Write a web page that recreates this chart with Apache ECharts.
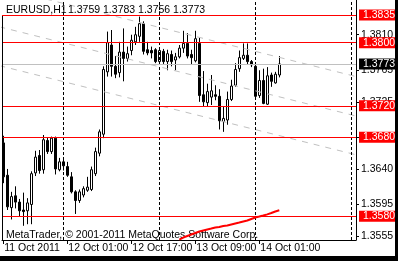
<!DOCTYPE html>
<html><head><meta charset="utf-8">
<script src="https://cdn.jsdelivr.net/npm/echarts@6/dist/echarts.min.js"></script>
<style>html,body{margin:0;padding:0;background:#fff;}#c{width:398px;height:261px;}</style>
</head><body><div id="c"></div>
<script>
// ---- data (EURUSD H1, bar 0 = 11 Oct 2011 09:00) ----
const symbolName = 'EURUSD,H1';
const lastQuote = [1.3759, 1.3783, 1.3756, 1.3773]; // O H L C of last bar
const opens  = [1.3673,1.3632,1.3591,1.3606,1.3598,1.3588,1.3587,1.3595,1.3635,1.3657,
                1.3639,1.3676,1.3662,1.3679,1.3639,1.3649,1.3643,1.3630,1.3611,1.3600,
                1.3607,1.3613,1.3614,1.3634,1.3660,1.3684,1.3763,1.3797,1.3770,1.3762,
                1.3788,1.3780,1.3790,1.3801,1.3808,1.3824,1.3791,1.3790,1.3791,1.3776,
                1.3789,1.3776,1.3785,1.3778,1.3782,1.3793,1.3799,1.3785,1.3777,1.3799,
                1.3734,1.3724,1.3731,1.3734,1.3732,1.3700,1.3702,1.3728,1.3746,1.3767,
                1.3780,1.3784,1.3776,1.3770,1.3733,1.3752,1.3722,1.3759,1.3749,1.3759];
const highs  = [1.3682,1.3640,1.3611,1.3618,1.3602,1.3610,1.3603,1.3637,1.3663,1.3664,
                1.3683,1.3680,1.3681,1.3681,1.3654,1.3655,1.3649,1.3636,1.3613,1.3614,
                1.3618,1.3630,1.3643,1.3667,1.3690,1.3770,1.3814,1.3816,1.3783,1.3801,
                1.3818,1.3795,1.3810,1.3820,1.3833,1.3827,1.3801,1.3795,1.3793,1.3793,
                1.3792,1.3791,1.3790,1.3787,1.3797,1.3815,1.3812,1.3791,1.3815,1.3806,
                1.3764,1.3748,1.3759,1.3746,1.3741,1.3719,1.3738,1.3753,1.3774,1.3790,
                1.3799,1.3799,1.3778,1.3772,1.3765,1.3767,1.3769,1.3762,1.3763,1.3783];
const lows   = [1.3622,1.3588,1.3576,1.3590,1.3580,1.3568,1.3570,1.3570,1.3631,1.3634,
                1.3634,1.3659,1.3659,1.3633,1.3637,1.3638,1.3630,1.3609,1.3583,1.3597,
                1.3604,1.3611,1.3612,1.3631,1.3656,1.3679,1.3757,1.3757,1.3755,1.3756,
                1.3751,1.3776,1.3784,1.3797,1.3801,1.3785,1.3784,1.3780,1.3774,1.3772,
                1.3773,1.3765,1.3770,1.3765,1.3780,1.3787,1.3780,1.3772,1.3775,1.3725,
                1.3719,1.3719,1.3721,1.3727,1.3690,1.3687,1.3696,1.3726,1.3744,1.3763,
                1.3778,1.3772,1.3769,1.3730,1.3730,1.3722,1.3721,1.3744,1.3748,1.3756];
const closes = [1.3630,1.3592,1.3605,1.3598,1.3587,1.3586,1.3597,1.3634,1.3655,1.3638,
                1.3677,1.3662,1.3679,1.3640,1.3649,1.3644,1.3632,1.3611,1.3600,1.3611,
                1.3615,1.3617,1.3639,1.3662,1.3687,1.3766,1.3800,1.3770,1.3760,1.3788,
                1.3780,1.3786,1.3803,1.3810,1.3824,1.3789,1.3787,1.3787,1.3776,1.3790,
                1.3776,1.3786,1.3776,1.3782,1.3793,1.3799,1.3783,1.3781,1.3805,1.3733,
                1.3725,1.3738,1.3739,1.3732,1.3701,1.3704,1.3728,1.3745,1.3766,1.3781,
                1.3784,1.3776,1.3772,1.3732,1.3752,1.3723,1.3758,1.3751,1.3760,1.3773];
const indicatorStart = 44;
const indicatorValues = [1.35506,1.35531,1.35550,1.35569,1.35588,1.35607,1.35620,1.35633,1.35645,1.35658,
                         1.35664,1.35677,1.35683,1.35696,1.35709,1.35721,1.35734,1.35747,1.35766,1.35785,
                         1.35797,1.35810,1.35825,1.35842,1.35861,1.35876];
const levelPrices = [1.3835, 1.3800, 1.3720, 1.3680, 1.3580];
const bidPrice = 1.3773;
const priceTicks = [1.3810, 1.3765, 1.3725, 1.3680, 1.3640, 1.3595, 1.3555];
const timeTickBars = [0, 16, 32, 48, 64];
const timeTickLabels = ['11 Oct 2011', '12 Oct 01:00', '12 Oct 17:00', '13 Oct 09:00', '14 Oct 01:00'];
const daySeparatorBars = [15, 39, 63, 87];
const channelBars = [-1, 89];
const channelUpper = [1.38700, 1.37560];
const channelMiddle = [1.38201, 1.37060];
const channelLower = [1.37709, 1.36569];
const copyrightText = 'MetaTrader, \u00A9 2001-2011 MetaQuotes Software Corp.';

const FONT = "'Liberation Sans Narrow','Liberation Sans',Arial,sans-serif";
const FS = 10.5;

const candleData = opens.map((o, i) => [i, o, closes[i], lows[i], highs[i]]);
const indicatorData = indicatorValues.map((v, k) => [indicatorStart + k, v]);
const pairs = (vals) => channelBars.map((b, k) => [b, vals[k]]);

const chart = echarts.init(document.getElementById('c'), null, {renderer: 'canvas'});
const channelStyle = {type: 'line', symbol: 'none', silent: true, z: 4, clip: true,
  lineStyle: {color: '#c0c0c0', width: 1, type: [6, 6]}};

chart.setOption({
  animation: false,
  backgroundColor: '#ffffff',
  grid: {left: 2, right: 42, top: 0, bottom: 21, show: false},
  xAxis: {
    type: 'value', min: -0.325, max: 88.175,
    axisLine: {show: true, onZero: false, lineStyle: {color: '#000', width: 1}},
    splitLine: {show: false},
    axisTick: {show: true, customValues: timeTickBars, length: 4, lineStyle: {color: '#000'}},
    axisLabel: {show: true, customValues: timeTickBars, align: 'left', margin: 3,
      formatter: v => timeTickLabels[timeTickBars.indexOf(v)] || '',
      color: '#000', fontFamily: FONT, fontSize: FS, padding: [0, 0, 0, 1]}
  },
  yAxis: {
    type: 'value', position: 'right', min: 1.3550, max: 1.3854, scale: true,
    axisLine: {show: true, onZero: false, lineStyle: {color: '#000', width: 1}},
    splitLine: {show: false},
    axisTick: {show: true, customValues: priceTicks, length: 3, lineStyle: {color: '#000'}},
    axisLabel: {show: true, customValues: priceTicks, margin: 5,
      formatter: v => v.toFixed(4), color: '#000', fontFamily: FONT, fontSize: FS}
  },
  series: [
    { // day separators and bid line (behind candles)
      type: 'line', data: [], z: 1, silent: true,
      markLine: {silent: true, symbol: ['none', 'none'], animation: false, precision: 4,
        data: daySeparatorBars.map(b => ({xAxis: b, lineStyle: {color: '#000', width: 1, type: [3, 2]}, label: {show: false}}))
          .concat([{yAxis: bidPrice, lineStyle: {color: '#c0c0c0', width: 1, type: 'solid'},
            label: {show: true, position: 'end', distance: 3, formatter: p => Number(p.value).toFixed(4),
              color: '#fff', backgroundColor: '#000', padding: [1, 3, 0, 4], lineHeight: 10,
              fontFamily: FONT, fontSize: FS}}])
      }
    },
    {
      type: 'candlestick', z: 3, barWidth: 2,
      encode: {x: 0, y: [1, 2, 3, 4]},
      data: candleData,
      itemStyle: {color: '#ffffff', color0: '#000000', borderColor: '#000000', borderColor0: '#000000', borderWidth: 1}
    },
    Object.assign({data: pairs(channelUpper)}, channelStyle),
    Object.assign({data: pairs(channelMiddle)}, channelStyle),
    Object.assign({data: pairs(channelLower)}, channelStyle),
    { // horizontal red levels
      type: 'line', data: [], z: 5, silent: true,
      markLine: {silent: true, symbol: ['none', 'none'], animation: false, precision: 4,
        lineStyle: {color: '#ff0000', width: 1, type: 'solid'},
        label: {show: true, position: 'end', distance: 3, formatter: p => Number(p.value).toFixed(4),
          color: '#fff', backgroundColor: '#ff0000', padding: [1, 3, 0, 4], lineHeight: 10,
          fontFamily: FONT, fontSize: FS},
        data: levelPrices.map(v => ({yAxis: v}))
      }
    },
    {
      type: 'line', data: indicatorData, z: 6, symbol: 'none', silent: true, clip: true,
      lineStyle: {color: '#ff0000', width: 2}
    }
  ],
  graphic: [
    {type: 'line', silent: true, z: 10, shape: {x1: 2.5, y1: 16, x2: 2.5, y2: 240}, style: {stroke: '#000', lineWidth: 1}},
    {type: 'text', silent: true, z: 10, x: 6, y: 10, style: {text: symbolName, font: FS + 'px ' + FONT, fill: '#000', verticalAlign: 'middle'}},
    {type: 'text', silent: true, z: 10, x: 68, y: 10, style: {text: lastQuote.map(v => v.toFixed(4)).join(' '), font: FS + 'px ' + FONT, fill: '#000', verticalAlign: 'middle'}},
    {type: 'text', silent: true, z: 0, x: 6, y: 235.5, style: {text: copyrightText, font: FS + 'px ' + FONT, fill: '#000', verticalAlign: 'middle'}},
    {type: 'rect', silent: true, z: 10, shape: {x: 0, y: 256, width: 398, height: 5}, style: {fill: '#000'}},
    {type: 'rect', silent: true, z: 10, shape: {x: 395, y: 0, width: 3, height: 261}, style: {fill: '#000'}}
  ]
});
</script></body></html>
